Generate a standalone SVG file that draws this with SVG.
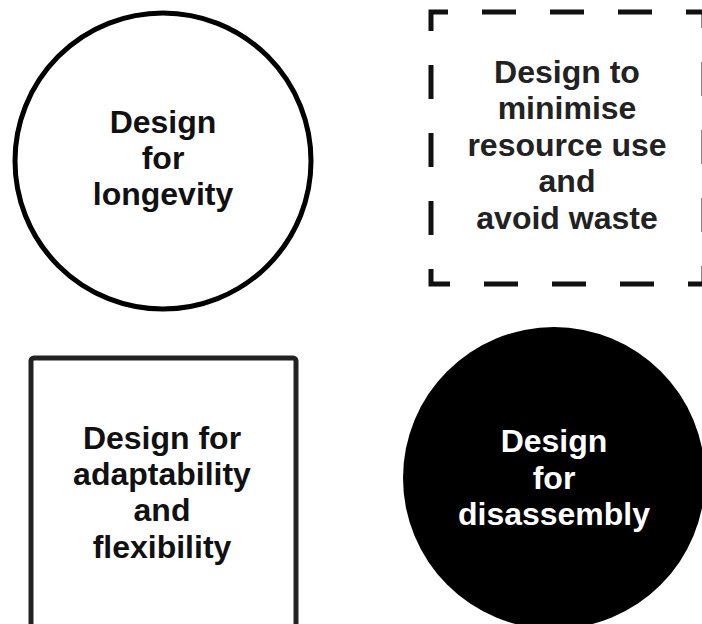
<svg xmlns="http://www.w3.org/2000/svg" width="702" height="624" viewBox="0 0 702 624">
  <style>
    .lbl { font-family: "Liberation Sans", Arial, sans-serif; font-weight: bold; font-size: 32px; text-anchor: middle; }
    .dark { fill: #111; }
    .grey { fill: #222; }
    .light { fill: #fff; }
  </style>
  <rect width="702" height="624" fill="#fff"/>
  <g id="longevity">
    <circle cx="163" cy="161" r="148" fill="#fff" stroke="#000" stroke-width="5"/>
    <text class="lbl dark" x="163" y="133">Design</text>
    <text class="lbl dark" x="163" y="169">for</text>
    <text class="lbl dark" x="163" y="205">longevity</text>
  </g>
  <g id="minimise">
    <rect x="431" y="12" width="273" height="272" fill="none" stroke="#111" stroke-width="5" stroke-dasharray="34 34" stroke-dashoffset="17"/>
    <text class="lbl grey" x="567" y="83">Design to</text>
    <text class="lbl grey" x="567" y="119">minimise</text>
    <text class="lbl grey" x="567" y="156">resource use</text>
    <text class="lbl grey" x="567" y="192">and</text>
    <text class="lbl grey" x="567" y="229">avoid waste</text>
  </g>
  <g id="adaptability">
    <rect x="31" y="358" width="265" height="275" rx="3" fill="#fff" stroke="#222" stroke-width="5"/>
    <text class="lbl dark" x="162" y="449">Design for</text>
    <text class="lbl dark" x="162" y="485">adaptability</text>
    <text class="lbl dark" x="162" y="521">and</text>
    <text class="lbl dark" x="162" y="558">flexibility</text>
  </g>
  <g id="disassembly">
    <circle cx="554" cy="478" r="151" fill="#000"/>
    <text class="lbl light" x="554" y="452">Design</text>
    <text class="lbl light" x="554" y="489">for</text>
    <text class="lbl light" x="554" y="525">disassembly</text>
  </g>
  <g id="connectors"/>
</svg>
